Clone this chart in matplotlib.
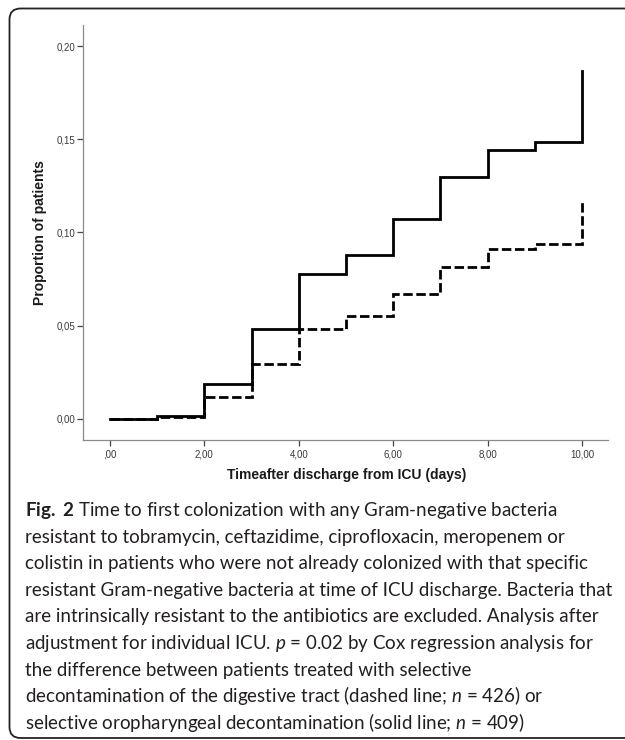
import matplotlib
matplotlib.use("Agg")
import matplotlib.pyplot as plt
from matplotlib.path import Path
from matplotlib.patches import PathPatch

# ---------------- data ----------------
days = [0, 1, 2, 3, 4, 5, 6, 7, 8, 9, 10]
sod_solid = [0.000, 0.0015, 0.019, 0.048, 0.078, 0.088, 0.107, 0.130, 0.144, 0.1485, 0.1865]
sdd_dashed = [0.000, 0.001, 0.012, 0.0295, 0.0485, 0.055, 0.067, 0.0815, 0.0912, 0.0937, 0.117]

x_ticks = [0, 2, 4, 6, 8, 10]
x_tick_labels = [",00", "2,00", "4,00", "6,00", "8,00", "10,00"]
y_ticks = [0.00, 0.05, 0.10, 0.15, 0.20]
y_tick_labels = ["0,00", "0,05", "0,10", "0,15", "0,20"]

x_label = "Timeafter discharge from ICU (days)"
y_label = "Proportion of patients"

caption_lines = [
    r"$\mathbf{Fig.}$ $\mathbf{2}$ Time to first colonization with any Gram-negative bacteria",
    "resistant to tobramycin, ceftazidime, ciprofloxacin, meropenem or",
    "colistin in patients who were not already colonized with that specific",
    "resistant Gram-negative bacteria at time of ICU discharge. Bacteria that",
    "are intrinsically resistant to the antibiotics are excluded. Analysis after",
    r"adjustment for individual ICU. $p$ = 0.02 by Cox regression analysis for",
    "the difference between patients treated with selective",
    r"decontamination of the digestive tract (dashed line; $n$ = 426) or",
    r"selective oropharyngeal decontamination (solid line; $n$ = 409)",
]

# ---------------- figure ----------------
W, H = 625, 740
plt.rcParams["mathtext.fontset"] = "custom"
plt.rcParams["mathtext.rm"] = "Lato"
plt.rcParams["mathtext.it"] = "Lato:italic"
plt.rcParams["mathtext.bf"] = "Lato:bold"

fig = plt.figure(figsize=(W / 100, H / 100), dpi=100)

# axes in pixel geometry
ax_l, ax_r, ax_b, ax_t = 83, 608, 440, 25
ax = fig.add_axes([ax_l / W, 1 - ax_b / H, (ax_r - ax_l) / W, (ax_b - ax_t) / H])

ax.plot(days, sod_solid, drawstyle="steps-post", color="black", lw=2.0,
        solid_joinstyle="miter")
ax.plot(days, sdd_dashed, drawstyle="steps-post", color="black", lw=2.0,
        linestyle=(0, (3.4, 1.3)), dash_joinstyle="miter")

ax.set_xlim(-0.572, 10.55)
ax.set_ylim(-0.0113, 0.2113)

for s in ["top", "right"]:
    ax.spines[s].set_visible(False)
for s in ["left", "bottom"]:
    ax.spines[s].set_color("#8a8a8a")
    ax.spines[s].set_linewidth(0.9)

ax.set_xticks(x_ticks)
ax.set_xticklabels(x_tick_labels)
ax.set_yticks(y_ticks)
ax.set_yticklabels(y_tick_labels)
ax.tick_params(axis="both", direction="out", length=4.3, width=0.9,
               color="#444444", labelcolor="#3a3a3a", labelsize=7)
ax.tick_params(axis="y", pad=1)
ax.tick_params(axis="x", pad=2.5)
for lab in ax.get_xticklabels() + ax.get_yticklabels():
    lab.set_fontfamily("Liberation Sans")

ax.set_xlabel(x_label, fontsize=10, fontweight="bold", family="Liberation Sans",
              color="#1a1a1a")
ax.xaxis.set_label_coords((347 - ax_l) / (ax_r - ax_l), (ax_b - 475) / (ax_b - ax_t))
ax.xaxis.label.set_va("center")
ax.set_ylabel(y_label, fontsize=10, fontweight="bold", family="Liberation Sans",
              color="#1a1a1a")
ax.yaxis.set_label_coords((40 - ax_l) / (ax_r - ax_l), 0.5)
ax.yaxis.label.set_va("center")

# ---------------- caption ----------------
cap_x = 25 / W
base0 = 516
step = 26.6
texts = []
for i, line in enumerate(caption_lines):
    t = fig.text(cap_x, 1 - (base0 + i * step) / H, line, family="Lato",
                 fontsize=12, color="#231f20", va="baseline", ha="left")
    texts.append(t)

# fit caption font size so that the widest line spans like the reference
fig.canvas.draw()
r = fig.canvas.get_renderer()
w4 = texts[3].get_window_extent(r).width
fs = 12 * 586.0 / w4
for t in texts:
    t.set_fontsize(fs)

# ---------------- frame: rounded on the left, open past the right edge ----------------
# pixel coordinates measured from the top-left, converted to display (origin bottom-left)
fx0, fy_top, fy_bot, rad, fx_end = 9.5, 8.5, 738.0, 11.0, W + 40
def P(x, y):
    return (x, H - y)
verts = [
    P(fx_end, fy_top), P(fx0 + rad, fy_top),
    P(fx0, fy_top), P(fx0, fy_top + rad),
    P(fx0, fy_bot - rad),
    P(fx0, fy_bot), P(fx0 + rad, fy_bot),
    P(fx_end, fy_bot),
]
codes = [Path.MOVETO, Path.LINETO, Path.CURVE3, Path.CURVE3, Path.LINETO,
         Path.CURVE3, Path.CURVE3, Path.LINETO]
frame = PathPatch(Path(verts, codes), fill=False, lw=1.3, ec="#222222",
                  transform=None)
fig.add_artist(frame)

fig.savefig("out.png", dpi=100)
